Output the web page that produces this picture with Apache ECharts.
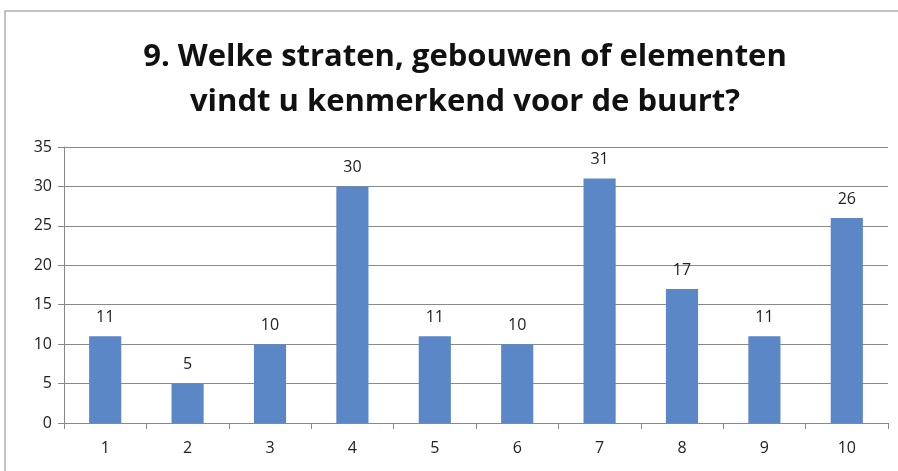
<!DOCTYPE html>
<html><head><meta charset="utf-8">
<script src="https://cdn.jsdelivr.net/npm/echarts@6/dist/echarts.min.js"></script>
<style>html,body{margin:0;padding:0;background:#fff}#c{width:898px;height:471px}</style>
</head><body><div id="c"></div>
<script>
const titleText = "9. Welke straten, gebouwen of elementen\nvindt u kenmerkend voor de buurt?";
const categories = ["1","2","3","4","5","6","7","8","9","10"];
const values = [11,5,10,30,11,10,31,17,11,26];
const yMin = 0, yMax = 35, yStep = 5;

const chart = echarts.init(document.getElementById('c'), null, {renderer:'canvas'});
const font = "'Open Sans', 'Noto Sans', sans-serif";
chart.setOption({
  animation:false,
  backgroundColor:'#fff',
  graphic:[{type:'polyline', shape:{points:[[5,471],[5,11],[898,11]]}, style:{stroke:'#b0b0b0', lineWidth:1.5, fill:null}}],
  title:{text:titleText, left:460, textAlign:'center', top:30,
    textStyle:{fontFamily:font, fontWeight:'bold', fontSize:31, lineHeight:45, color:'#111'}},
  grid:{left:64, right:10, top:147, bottom:48, containLabel:false},
  xAxis:{type:'category', data:categories,
    axisLine:{lineStyle:{color:'#888', width:1}},
    axisTick:{show:true, length:6, lineStyle:{color:'#888'}},
    axisLabel:{fontFamily:font, fontSize:16, color:'#222', margin:17}},
  yAxis:{type:'value', min:yMin, max:yMax, interval:yStep,
    axisLine:{show:true, lineStyle:{color:'#888'}},
    axisTick:{show:true, length:6, lineStyle:{color:'#888'}},
    splitLine:{lineStyle:{color:'#8a8a8a', width:1}},
    axisLabel:{fontFamily:font, fontSize:16, color:'#222', margin:12}},
  series:[{type:'bar', data:values, barWidth:'39%',
    itemStyle:{color:'#5b87c6'},
    label:{show:true, position:'top', distance:11, fontFamily:font, fontSize:16, color:'#222'}}]
});
</script></body></html>
